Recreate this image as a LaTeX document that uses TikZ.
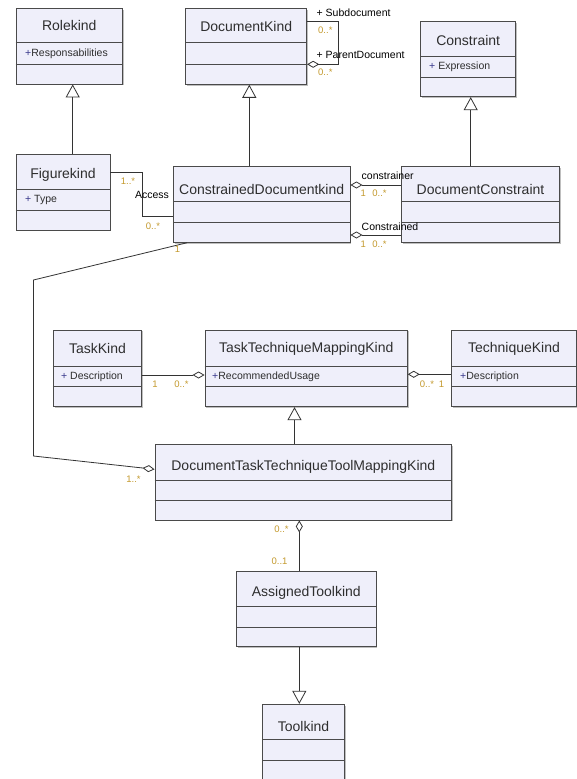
\documentclass[tikz,border=0pt]{standalone}
\usepackage{fontspec}
\setmainfont{Liberation Sans}
\usetikzlibrary{arrows.meta,fit,shadows}

\definecolor{boxfill}{HTML}{EFEFFA}
\definecolor{boxline}{HTML}{4A4A4A}
\definecolor{titletext}{HTML}{2E2E2E}
\definecolor{plusblue}{HTML}{3A3A8C}
\definecolor{multcol}{HTML}{C49A2E}
\definecolor{wirecol}{HTML}{333333}

\tikzset{
  classbox/.style={draw=boxline, line width=0.9pt, fill=boxfill, inner sep=0pt,
    drop shadow={shadow xshift=1.2pt, shadow yshift=-1.2pt, opacity=0.25, fill=black}},
  divider/.style={draw=boxline, line width=0.8pt},
  classname/.style={font=\fontsize{14}{16}\selectfont, text=titletext, inner sep=0pt},
  attr/.style={font=\fontsize{10.5}{12}\selectfont, text=titletext, inner sep=0pt, anchor=west},
  role/.style={font=\fontsize{10.5}{12}\selectfont, text=black, inner sep=0pt},
  mult/.style={font=\fontsize{9.5}{11}\selectfont, text=multcol, inner sep=0pt},
  wire/.style={draw=wirecol, line width=0.8pt},
  gen/.style={wire, -{Triangle[open, length=13pt, width=14pt, line width=0.8pt]}},
  aggstart/.style={wire, {Diamond[open, length=12pt, width=7pt, line width=0.8pt]}-},
  aggend/.style={wire, -{Diamond[open, length=12pt, width=7pt, line width=0.8pt]}},
}

% #1 name, #2 x1, #3 y1, #4 x2, #5 y2, #6 first divider, #7 second divider
\newcommand{\umlclass}[7]{%
  \node[classbox, fit={(#2,#3) (#4,#5)}] (#1) {};
  \draw[divider] (#1.west |- 0,#6) -- (#1.east |- 0,#6);
  \draw[divider] (#1.west |- 0,#7) -- (#1.east |- 0,#7);
}
\newcommand{\plus}{\textcolor{plusblue}{+}}

\begin{document}
\begin{tikzpicture}[x=1pt, y=-1pt]
\useasboundingbox (0,0) rectangle (577,779);
\fill[white] (0,0) rectangle (577,779);

% ---------- classes ----------
\umlclass{role}{16}{8.3}{122.7}{84}{42.7}{64.3}
\node[classname] (roleT) at (69.3,25.5) {Rolekind};
\node[attr] (roleA) at (25,53.5) {\plus Responsabilities};

\umlclass{fig}{16}{154}{110}{230}{189}{210}
\node[classname] (figT) at (63,175) {Figurekind};
\node[attr] (figA) at (25,199.5) {\plus\ Type};

\umlclass{dk}{185.7}{8.3}{306.7}{84.3}{42.7}{64.3}
\node[classname] (dkT) at (246.2,26) {DocumentKind};

\umlclass{con}{420.7}{21.7}{515.7}{96.7}{56}{77.3}
\node[classname] (conT) at (468.2,40) {Constraint};
\node[attr] (conA) at (429,66.5) {\plus\ Expression};

\umlclass{cdk}{173.3}{166.7}{350}{242.3}{201}{222.7}
\node[classname] (cdkT) at (261.7,189) {ConstrainedDocumentkind};

\umlclass{dc}{401.7}{166.7}{559.3}{242.3}{201.3}{222.7}
\node[classname] (dcT) at (480.5,189) {DocumentConstraint};

\umlclass{tk}{53.3}{330}{141.7}{406.7}{366.7}{386.7}
\node[classname] (tkT) at (97.5,348.5) {TaskKind};
\node[attr] (tkA) at (61,376.5) {\plus\ Description};

\umlclass{ttm}{205}{330}{407.3}{406.7}{366.7}{386.7}
\node[classname] (ttmT) at (306.2,348.5) {TaskTechniqueMappingKind};
\node[attr] (ttmA) at (212,376.5) {\plus RecommendedUsage};

\umlclass{tech}{451.7}{330}{576.3}{406.7}{366.7}{386.7}
\node[classname] (techT) at (514,348.5) {TechniqueKind};
\node[attr] (techA) at (460,376.5) {\plus Description};

\umlclass{dtt}{155}{444.3}{451.7}{520}{480}{500.3}
\node[classname] (dttT) at (303.3,466.5) {DocumentTaskTechniqueToolMappingKind};

\umlclass{at}{236.7}{571}{376}{646.7}{606.7}{627.3}
\node[classname] (atT) at (306.3,593) {AssignedToolkind};

\umlclass{tool}{262.7}{704.3}{344.3}{784}{739}{760.7}
\node[classname] (toolT) at (303.5,726) {Toolkind};

% ---------- generalizations ----------
\draw[gen] (fig.north -| 72.7,0) -- (role.south -| 72.7,0);
\draw[gen] (cdk.north -| 249.3,0) -- (dk.south -| 249.3,0);
\draw[gen] (dc.north -| 470.7,0) -- (con.south -| 470.7,0);
\draw[gen] (dtt.north -| 294.5,0) -- (ttm.south -| 294.5,0);
\draw[gen] (at.south -| 299.3,0) -- (tool.north -| 299.3,0);

% ---------- associations ----------
% DocumentKind self reference
\draw[aggend] (dk.east |- 0,21.7) -- (338.3,21.7) -- (338.3,64.3) -- (dk.east |- 0,64.3);
\node[role, anchor=west] (subR) at (316.5,12.3) {+ Subdocument};
\node[mult, anchor=west] (subM) at (318,30.5) {0..*};
\node[role, anchor=west] (parR) at (316.5,54.5) {+ ParentDocument};
\node[mult, anchor=west] (parM) at (318,72.5) {0..*};

% Access
\draw[wire] (fig.east |- 0,172.5) -- (142.5,172.5) -- (142.5,216.7) -- (cdk.west |- 0,216.7);
\node[mult] (accM1) at (128,181.5) {1..*};
\node[role] (accR) at (152,195) {Access};
\node[mult] (accM2) at (153,226.5) {0..*};

% constrainer / Constrained
\draw[aggstart] (cdk.east |- 0,185) -- (dc.west |- 0,185);
\node[role, anchor=west] (cnR) at (361.5,176) {constrainer};
\node[mult] (cnM1) at (363.3,193.5) {1};
\node[mult] (cnM2) at (379.5,193.5) {0..*};

\draw[aggstart] (cdk.east |- 0,235) -- (dc.west |- 0,235);
\node[role, anchor=west] (ctR) at (361.5,226.5) {Constrained};
\node[mult] (ctM1) at (363.3,244.5) {1};
\node[mult] (ctM2) at (379.5,244.5) {0..*};

% ConstrainedDocumentkind to DocumentTaskTechniqueToolMappingKind
\draw[aggend] (cdk.south -| 187,0) -- (33.5,280) -- (33.5,456) -- (dtt.west |- 0,469.3);
\node[mult] (cdM1) at (177.5,249.5) {1};
\node[mult] (cdM2) at (133.5,479.5) {1..*};

% TaskKind to TaskTechniqueMappingKind
\draw[aggend] (tk.east |- 0,375) -- (ttm.west |- 0,375);
\node[mult] (tkM1) at (155,384.5) {1};
\node[mult] (tkM2) at (181.5,384.5) {0..*};

% TechniqueKind to TaskTechniqueMappingKind
\draw[aggstart] (ttm.east |- 0,374.3) -- (tech.west |- 0,374.3);
\node[mult] (teM1) at (427,384.5) {0..*};
\node[mult] (teM2) at (441.5,384.5) {1};

% DocumentTaskTechniqueToolMappingKind to AssignedToolkind
\draw[aggstart] (dtt.south -| 299.3,0) -- (at.north -| 299.3,0);
\node[mult] (atM1) at (281.5,529.5) {0..*};
\node[mult] (atM2) at (279.5,561.7) {0..1};

\end{tikzpicture}
\end{document}
